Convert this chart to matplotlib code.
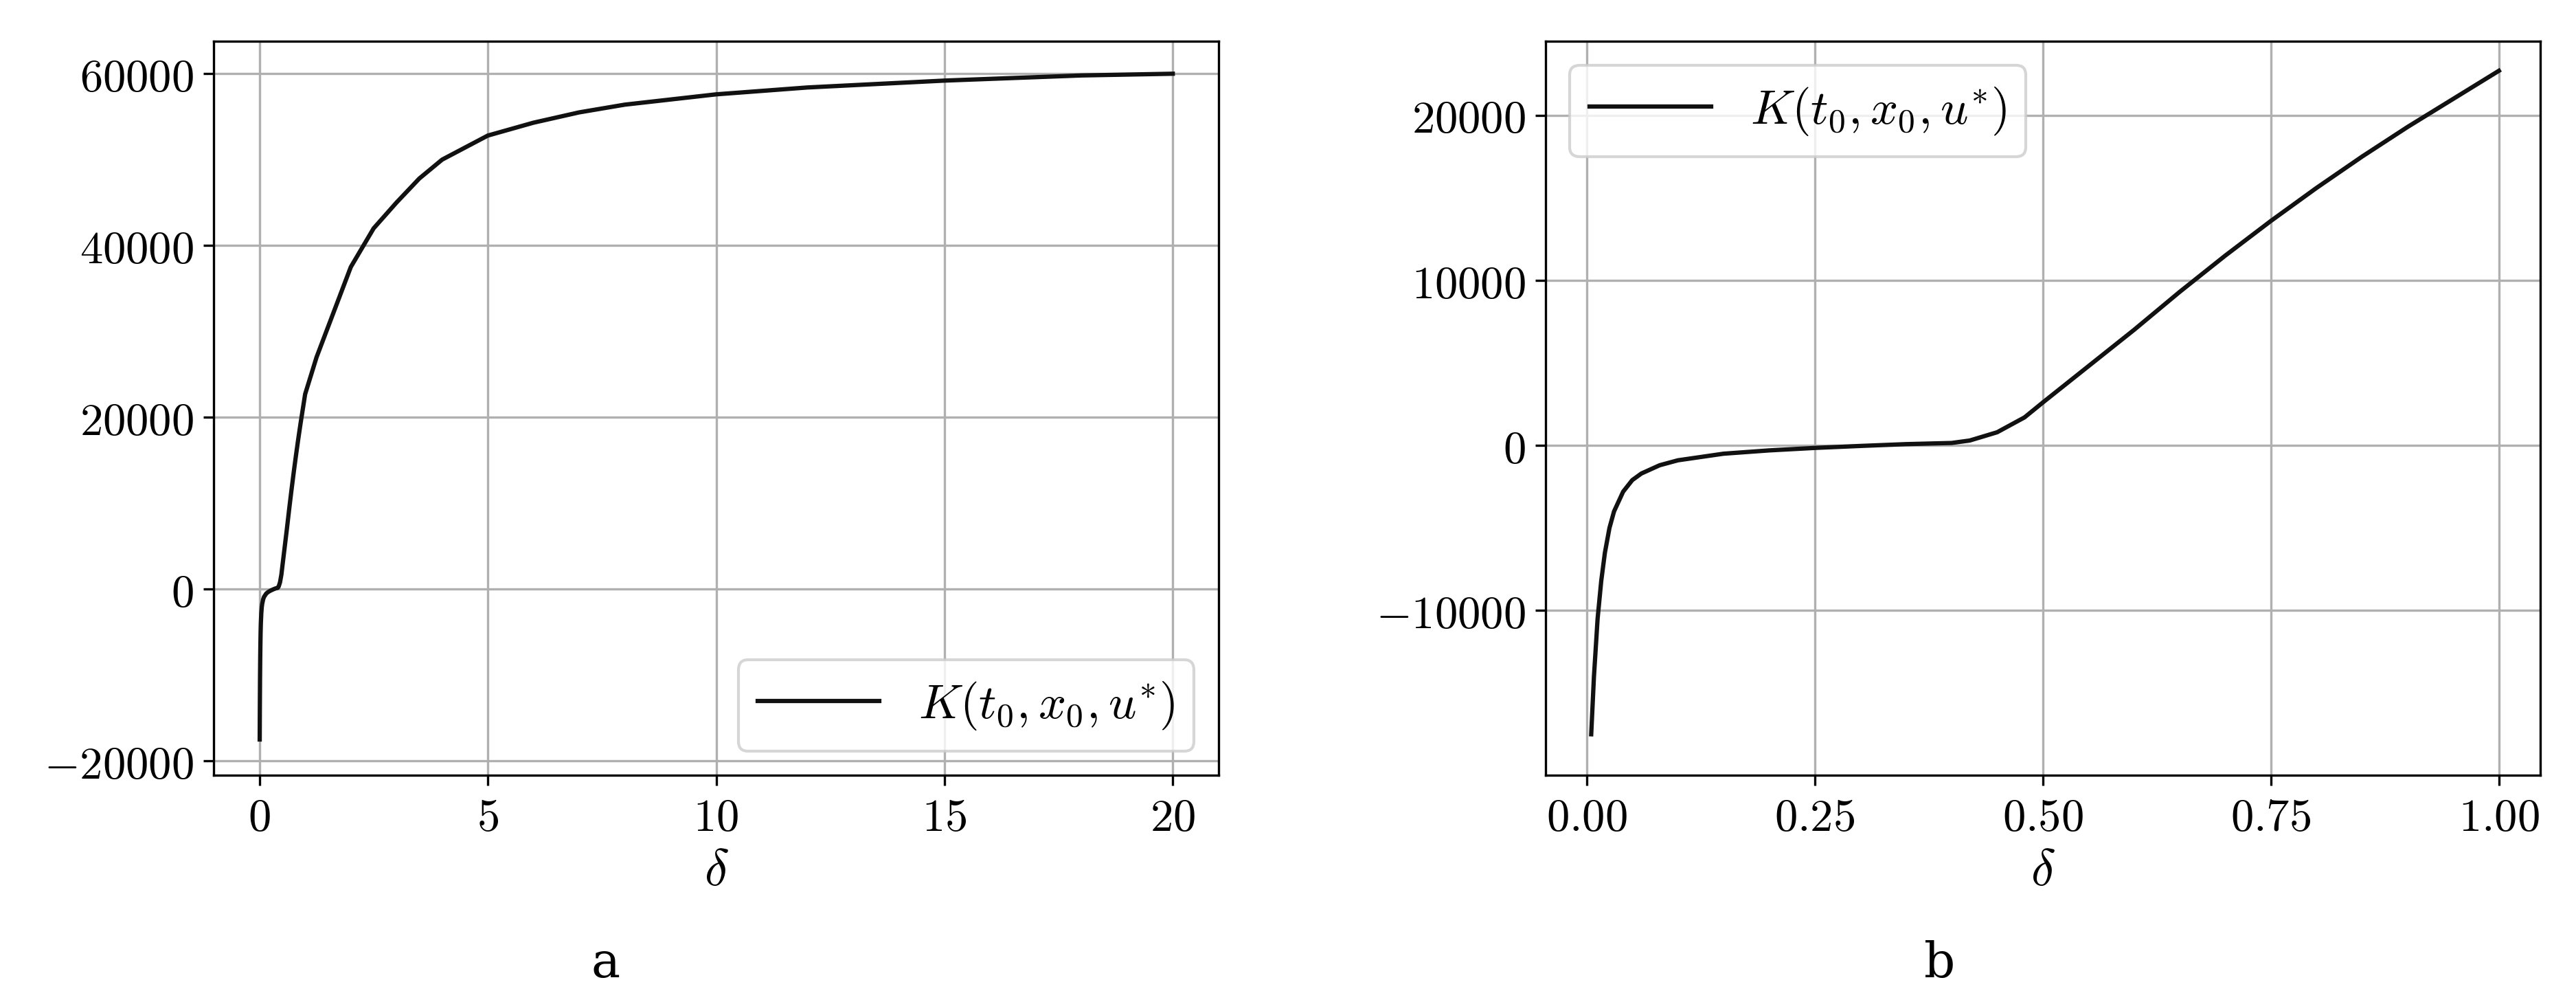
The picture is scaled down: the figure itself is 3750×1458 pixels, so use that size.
import numpy as np
import matplotlib
matplotlib.use("Agg")
import matplotlib.pyplot as plt
from matplotlib.ticker import FuncFormatter

plt.rcParams['font.family'] = 'DejaVu Serif'
plt.rcParams['mathtext.fontset'] = 'cm'

delta_b = [0.005, 0.008, 0.012, 0.016, 0.02, 0.025, 0.03, 0.04, 0.05, 0.06, 0.08, 0.1, 0.15,
           0.2, 0.25, 0.3, 0.35, 0.4, 0.42, 0.45, 0.48, 0.5, 0.55, 0.6, 0.65, 0.7, 0.75,
           0.8, 0.85, 0.9, 0.95, 1.0]
k_b = [-17500, -14000, -10500, -8200, -6500, -5000, -4000, -2800, -2100, -1700, -1200, -900, -500,
       -300, -150, -30, 80, 150, 300, 800, 1700, 2600, 4800, 7000, 9300, 11500, 13600,
       15600, 17500, 19300, 21000, 22700]
delta_a_ext = [1.25, 1.5, 1.75, 2.0, 2.5, 3.0, 3.5, 4.0, 5.0, 6.0, 7.0, 8.0, 10.0, 12.0, 15.0, 18.0, 20.0]
k_a_ext = [27000, 30500, 34000, 37500, 42000, 45000, 47800, 50000, 52800, 54300, 55500, 56400,
           57600, 58400, 59200, 59800, 60000]
delta_a = delta_b + delta_a_ext
k_a = k_b + k_a_ext

label = r'$K(t_0, x_0, u^{*})$'
fmt = FuncFormatter(lambda v, p: f"${v:g}$" if abs(v) >= 1 or v == 0 else f"${v:.2f}$")
fmt2 = FuncFormatter(lambda v, p: f"${v:.2f}$")

fig = plt.figure(figsize=(12.5, 4.86), dpi=300)
ax1 = fig.add_axes([0.083, 0.226, 0.390, 0.733])
ax2 = fig.add_axes([0.600, 0.226, 0.386, 0.733])

ax1.plot(delta_a, k_a, color='#111111', lw=1.5, label=label)
ax1.set_xlim(-1, 21)
ax1.set_ylim(-21700, 63800)
ax1.set_xticks([0, 5, 10, 15, 20])
ax1.set_yticks([-20000, 0, 20000, 40000, 60000])
ax1.xaxis.set_major_formatter(fmt)
ax1.yaxis.set_major_formatter(fmt)
ax1.legend(loc='lower right', fontsize=17, handlelength=2.5)

ax2.plot(delta_b, k_b, color='#111111', lw=1.5, label=label)
ax2.set_xlim(-0.045, 1.045)
ax2.set_ylim(-20000, 24500)
ax2.set_xticks([0, 0.25, 0.5, 0.75, 1.0])
ax2.set_yticks([-10000, 0, 10000, 20000])
ax2.xaxis.set_major_formatter(fmt2)
ax2.yaxis.set_major_formatter(fmt)
ax2.legend(loc='upper left', fontsize=17, handlelength=2.5)

for ax in (ax1, ax2):
    ax.grid(True, color='#b0b0b0', lw=0.8)
    ax.tick_params(labelsize=16)
    ax.set_xlabel(r'$\delta$', fontsize=18, labelpad=2)

fig.text(0.235, 0.025, 'a', fontsize=17, ha='center')
fig.text(0.753, 0.025, 'b', fontsize=17, ha='center')

fig.savefig('out.png')
